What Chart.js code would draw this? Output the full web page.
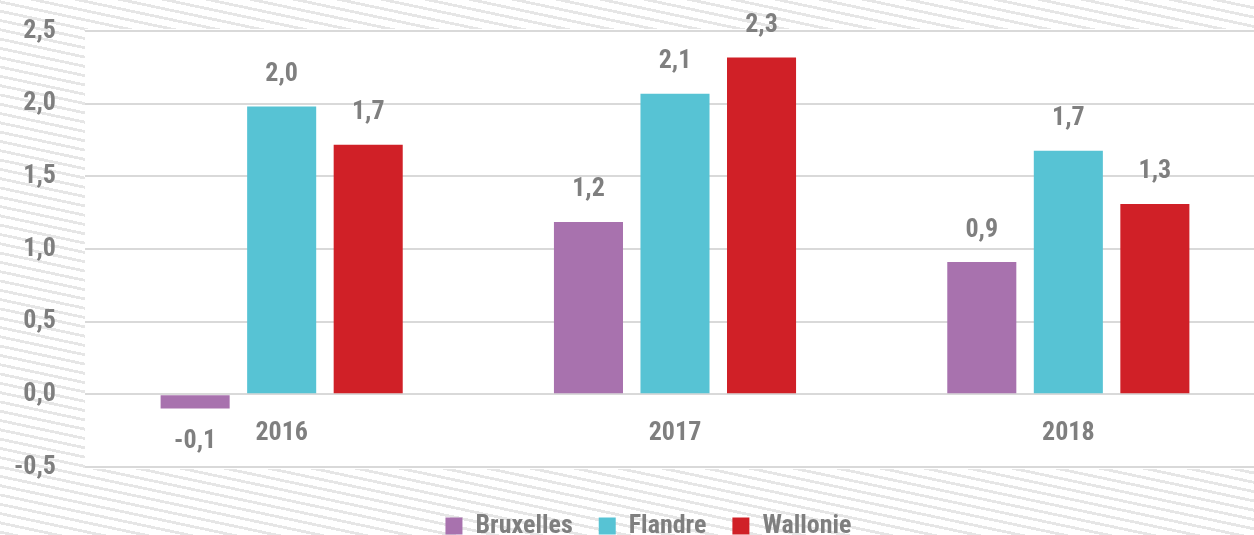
<!DOCTYPE html>
<html>
<head>
<meta charset="utf-8">
<script src="https://cdn.jsdelivr.net/npm/chart.js@4/dist/chart.umd.min.js"></script>
<style>
  body { margin: 0; background: #fff; }
  #wrap {
    width: 1254px; height: 535px; position: relative; overflow: hidden;
    background: repeating-linear-gradient(192deg, #ffffff 0px, #ffffff 6.3px, #e6e6e6 6.3px, #e6e6e6 9.1px);
  }
  /* the plot in the original runs a little past the right edge */
  #inner { width: 1265px; height: 535px; position: absolute; left: 0; top: 0; }
</style>
</head>
<body>
<div id="wrap"><div id="inner"><canvas id="chart"></canvas></div></div>
<script>
// categories and series
const categories = ['2016', '2017', '2018'];
const bruxelles = [-0.097, 1.186, 0.91];
const flandre = [1.98, 2.069, 1.676];
const wallonie = [1.717, 2.317, 1.31];
const seriesNames = ['Bruxelles', 'Flandre', 'Wallonie'];
const seriesColors = ['#a872ae', '#57c3d4', '#d02027'];
const yMin = -0.5, yMax = 2.5, yStep = 0.5;

const fontFamily = '"Roboto Condensed", "DejaVu Sans Condensed", sans-serif';
const textGrey = '#7f7f7f';

function fmt(v) {
  return v.toFixed(1).replace('.', ',');
}

// white plot area over the striped background
const plotBg = {
  id: 'plotBg',
  beforeDraw(chart) {
    const a = chart.chartArea, ctx = chart.ctx;
    ctx.save();
    ctx.fillStyle = '#ffffff';
    ctx.fillRect(a.left, a.top - 2, a.right - a.left, a.bottom - a.top + 4);
    ctx.restore();
  }
};

// the legend sits a bit lower and to the right in the original
const legendShift = {
  id: 'legendShift',
  afterLayout(chart) {
    const lg = chart.legend;
    lg.left += 16; lg.right += 16;
    lg.top += 20; lg.bottom += 20;
  }
};

// value labels above / below the bars
const valueLabels = {
  id: 'valueLabels',
  afterDatasetsDraw(chart) {
    const ctx = chart.ctx;
    ctx.save();
    ctx.font = 'bold 26px ' + fontFamily;
    ctx.fillStyle = textGrey;
    ctx.textAlign = 'center';
    ctx.textBaseline = 'middle';
    chart.data.datasets.forEach(function(ds, i) {
      chart.getDatasetMeta(i).data.forEach(function(bar, j) {
        const v = ds.data[j];
        const y = v >= 0 ? bar.y - 32 : bar.y + 33;
        ctx.fillText(fmt(v), bar.x, y);
      });
    });
    ctx.restore();
  }
};

const ctx = document.getElementById('chart');
const chart = new Chart(ctx, {
  type: 'bar',
  data: {
    labels: categories,
    datasets: [
      { label: seriesNames[0], data: bruxelles, backgroundColor: seriesColors[0] },
      { label: seriesNames[1], data: flandre, backgroundColor: seriesColors[1] },
      { label: seriesNames[2], data: wallonie, backgroundColor: seriesColors[2] }
    ]
  },
  options: {
    responsive: true,
    maintainAspectRatio: false,
    animation: false,
    datasets: {
      bar: { categoryPercentage: 0.66, barPercentage: 0.798 }
    },
    layout: { padding: { top: 31, right: 0, bottom: 6, left: 0 } },
    scales: {
      x: {
        position: { y: 0 },
        grid: { display: false },
        border: { display: false },
        ticks: {
          color: textGrey,
          font: { family: fontFamily, size: 26, weight: 'bold' },
          padding: 16
        }
      },
      y: {
        min: yMin,
        max: yMax,
        afterFit: function(scale) {
          scale.width = 85;
          scale.paddingTop = 0;
          scale.paddingBottom = 0;
        },
        grid: { color: '#d9d9d9', lineWidth: 2, drawTicks: false },
        border: { display: false },
        ticks: {
          stepSize: yStep,
          color: textGrey,
          padding: 29,
          font: { family: fontFamily, size: 26, weight: 'bold' },
          callback: function(v) { return fmt(v); }
        }
      }
    },
    plugins: {
      legend: {
        position: 'bottom',
        labels: {
          boxWidth: 17,
          boxHeight: 17,
          padding: 26,
          color: textGrey,
          font: { family: fontFamily, size: 26, weight: 'bold' }
        }
      },
      tooltip: { enabled: false }
    }
  },
  plugins: [plotBg, legendShift, valueLabels]
});
</script>
</body>
</html>
